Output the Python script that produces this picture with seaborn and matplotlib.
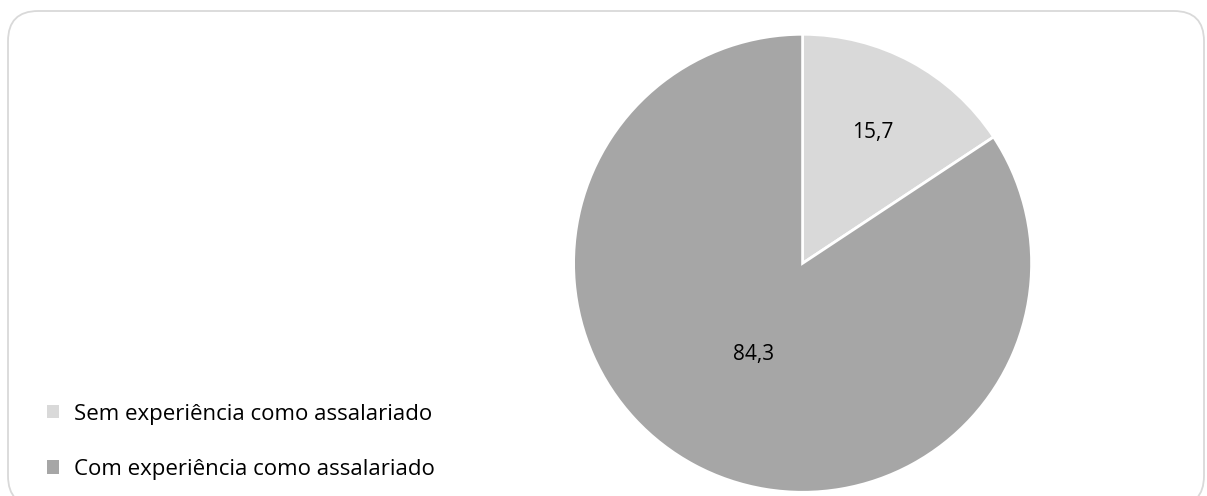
import numpy as np
import matplotlib.pyplot as plt
from matplotlib.patches import FancyBboxPatch
import seaborn as sns

# data
labels = ["Sem experiência como assalariado", "Com experiência como assalariado"]
values = [15.7, 84.3]
value_text = ["15,7", "84,3"]
colors = ["#d9d9d9", "#a6a6a6"]
label_dist = [0.65, 0.45]

sns.set_theme(style="white")
plt.rcParams['font.family'] = ['Open Sans', 'DejaVu Sans']

fig = plt.figure(figsize=(12.07, 4.96), dpi=100)

# rounded frame around the chart
frame = FancyBboxPatch((8 / 1207, -10 / 496), 1196 / 1207, 495 / 496,
                       boxstyle="round,pad=0,rounding_size=0.025",
                       transform=fig.transFigure, facecolor="none",
                       edgecolor="#d9d9d9", linewidth=1.3, mutation_aspect=1207 / 496,
                       zorder=-1)
fig.patches.append(frame)

ax = fig.add_axes([0.4752, 0.0075, 0.3795, 0.9234])
wedges, _ = ax.pie(values, colors=colors, startangle=90, counterclock=False,
                   radius=1, wedgeprops=dict(edgecolor="white", linewidth=2))
ax.set_xlim(-1.0, 1.0)
ax.set_ylim(-1.0, 1.0)
ax.set_aspect("equal")
ax.axis("off")

# value labels at the middle angle of each slice
total = sum(values)
start = 90.0
for v, t, d in zip(values, value_text, label_dist):
    span = 360.0 * v / total
    mid = np.radians(start - span / 2)
    ax.text(d * np.cos(mid), d * np.sin(mid), t, ha="center", va="center",
            fontsize=15, color="black")
    start -= span

leg = fig.legend(wedges, labels, loc="lower left", bbox_to_anchor=(0.022, -0.008),
                 frameon=False, fontsize=16, handlelength=0.55, handleheight=0.55,
                 handletextpad=0.7, labelspacing=1.55, labelcolor="black")
for h in leg.legend_handles:
    h.set_edgecolor("none")

plt.savefig("out.png", dpi=100)
